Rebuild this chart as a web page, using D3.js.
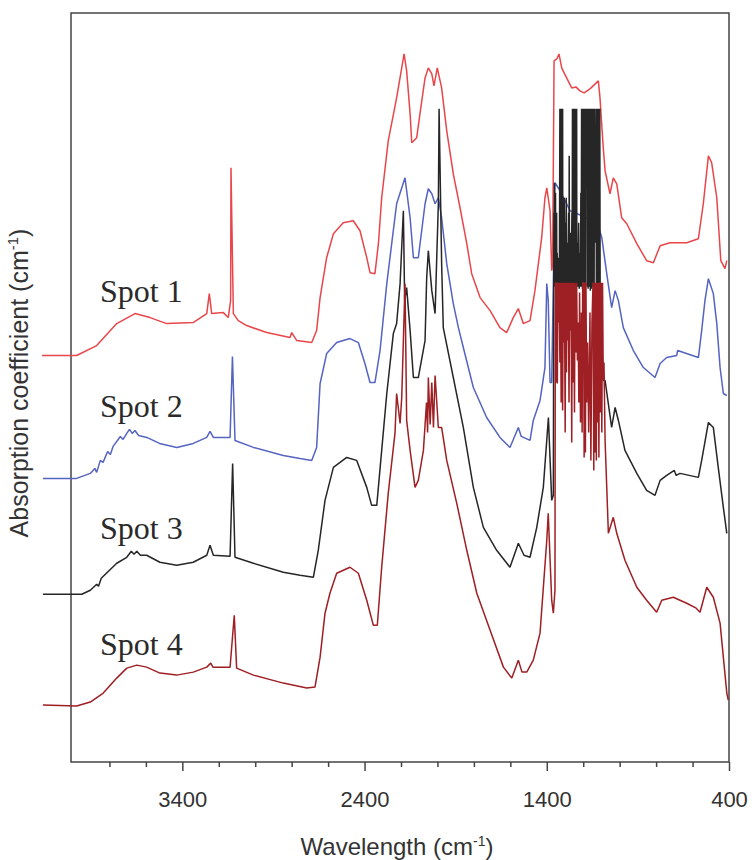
<!DOCTYPE html>
<html>
<head>
<meta charset="utf-8">
<script src="https://cdn.jsdelivr.net/npm/d3@7"></script>
<style>
  body { margin: 0; background: #fff; }
  .axis text { font-family: "Liberation Sans", Arial, sans-serif; fill: #333; }
  .axis path, .axis line { stroke: #444; }
</style>
</head>
<body>
<div id="chart"></div>
<script>
// wavenumber (cm-1), absorption coefficient (arbitrary, offset per spot)
const spot1 = [
  [4170, 40.7], [3980, 40.7], [3870, 41.7], [3760, 43.9], [3660, 44.9], [3577, 44.5], [3486, 43.9],
  [3341, 44.0], [3266, 44.9], [3252, 46.9], [3239, 44.9], [3175, 45.0], [3148, 44.5], [3135, 46.2],
  [3133, 59.5], [3120, 44.9], [3093, 44.2], [3047, 43.7], [2937, 43.0], [2809, 42.5], [2800, 43.0],
  [2772, 42.2], [2690, 42.0], [2663, 43.2], [2644, 46.5], [2608, 50.5], [2571, 52.9], [2517, 54.0],
  [2462, 54.2], [2425, 53.2], [2388, 50.5], [2370, 49.0], [2343, 48.9], [2324, 51.9], [2306, 56.5],
  [2270, 62.2], [2224, 66.5], [2196, 69.5], [2183, 70.9], [2169, 69.2], [2150, 64.9], [2141, 62.0],
  [2114, 62.5], [2096, 64.9], [2068, 68.5], [2050, 69.5], [2031, 68.9], [2019, 67.7], [2001, 69.5],
  [1977, 67.5], [1949, 63.2], [1913, 58.9], [1876, 55.5], [1839, 51.9], [1812, 48.9], [1766, 46.5],
  [1711, 45.2], [1657, 43.5], [1620, 43.0], [1584, 44.5], [1556, 45.4], [1529, 43.9], [1492, 44.2],
  [1465, 47.2], [1428, 52.5], [1410, 56.5], [1400, 57.5], [1382, 55.2], [1373, 49.2], [1368, 49.7],
  [1360, 70.2], [1345, 70.4], [1333, 70.9], [1318, 69.5], [1305, 69.0], [1291, 68.5], [1263, 67.5],
  [1240, 67.6], [1218, 67.2], [1195, 67.0], [1163, 67.4], [1140, 67.8], [1117, 68.2], [1108, 66.5],
  [1090, 61.5], [1080, 59.2], [1053, 56.9], [1035, 58.5], [1016, 57.9], [989, 54.5], [961, 53.9],
  [906, 51.9], [852, 50.2], [815, 50.0], [778, 51.7], [724, 52.0], [632, 52.0], [568, 52.4],
  [541, 55.9], [513, 60.7], [495, 60.0], [467, 56.5], [445, 50.2], [422, 49.4], [412, 50.2]
];

const spot2 = [
  [4165, 28.4], [3980, 28.4], [3905, 28.9], [3880, 29.4], [3870, 29.0], [3850, 30.2], [3835, 30.0],
  [3810, 31.1], [3795, 30.8], [3780, 31.6], [3740, 32.6], [3725, 32.3], [3705, 32.9], [3690, 33.3],
  [3675, 32.9], [3660, 33.2], [3640, 32.7], [3595, 32.5], [3525, 31.9], [3430, 31.5], [3340, 31.9],
  [3266, 32.5], [3248, 33.1], [3230, 32.5], [3138, 32.5], [3125, 40.6], [3111, 32.2], [3010, 31.5],
  [2846, 30.7], [2754, 30.4], [2690, 30.2], [2663, 31.5], [2644, 37.9], [2608, 40.9], [2553, 42.0],
  [2480, 42.4], [2434, 42.0], [2398, 39.9], [2370, 38.0], [2343, 38.0], [2315, 41.2], [2278, 47.9],
  [2224, 55.9], [2178, 58.5], [2150, 54.5], [2132, 50.5], [2105, 50.5], [2068, 55.9], [2050, 57.4],
  [2031, 56.9], [2013, 55.9], [1995, 56.5], [1977, 54.5], [1949, 49.9], [1913, 45.9], [1885, 43.5],
  [1858, 41.5], [1803, 37.5], [1730, 34.5], [1657, 32.5], [1602, 31.5], [1556, 33.5], [1540, 32.6],
  [1492, 32.2], [1474, 34.2], [1437, 36.2], [1410, 39.5], [1400, 47.9], [1392, 46.2], [1382, 38.0],
  [1373, 38.0], [1355, 58.0], [1327, 57.2], [1272, 55.2], [1181, 54.5], [1126, 54.2], [1098, 52.5],
  [1071, 48.9], [1044, 45.5], [1025, 47.2], [1007, 46.2], [980, 43.5], [925, 41.2], [870, 39.5],
  [806, 38.5], [778, 39.9], [742, 40.5], [687, 40.7], [682, 41.2], [568, 40.5], [550, 43.2],
  [532, 46.2], [513, 48.4], [486, 46.9], [467, 43.9], [449, 39.5], [431, 36.9], [412, 36.7]
];

const spot3 = [
  [4165, 16.8], [3952, 16.8], [3905, 17.2], [3870, 17.8], [3860, 17.6], [3845, 18.4], [3760, 19.9],
  [3705, 20.5], [3680, 21.1], [3665, 20.8], [3650, 21.1], [3630, 20.7], [3596, 20.7], [3523, 20.0],
  [3431, 19.7], [3340, 20.0], [3266, 20.7], [3248, 21.7], [3230, 20.7], [3138, 20.6], [3124, 29.9],
  [3111, 20.5], [3010, 19.9], [2846, 19.0], [2754, 18.7], [2681, 18.5], [2654, 21.2], [2617, 26.2],
  [2571, 29.5], [2498, 30.5], [2443, 30.2], [2388, 27.5], [2361, 25.7], [2333, 25.7], [2306, 31.2],
  [2278, 36.9], [2242, 42.9], [2224, 43.9], [2205, 47.9], [2187, 55.2], [2180, 46.2], [2169, 47.5],
  [2150, 43.2], [2132, 38.5], [2105, 38.5], [2068, 42.2], [2059, 48.5], [2050, 51.2], [2031, 47.2],
  [2013, 44.9], [1995, 55.9], [1991, 65.4], [1977, 49.9], [1968, 43.5], [1913, 38.5], [1858, 33.5],
  [1803, 27.5], [1748, 23.5], [1675, 21.2], [1602, 19.5], [1556, 21.9], [1525, 20.7], [1492, 20.5],
  [1455, 23.5], [1419, 27.5], [1391, 34.5], [1373, 26.2], [1364, 26.7],
  // saturated band
  [1361, 55], [1360, 47.6], [1358, 58], [1357, 47.8], [1355, 56], [1354, 47.6], [1352, 57], [1351, 47.8],
  [1349, 54], [1348, 47.6], [1346, 55], [1345, 47.8], [1343, 51], [1340, 47.6], [1336, 50.5], [1331, 47.6],
  [1328, 65.4], [1327, 47.6], [1325, 65.4], [1324, 47.6], [1322, 65.4], [1321, 47.8], [1319, 65.4],
  [1318, 47.6], [1316, 65.4], [1315, 47.8], [1313, 65.4], [1312, 47.6],
  [1309, 53], [1307, 47.6], [1304, 56.5], [1302, 47.8], [1299, 54], [1297, 47.6], [1293, 56.5],
  [1291, 47.8], [1287, 52], [1284, 47.6], [1280, 55], [1278, 47.8], [1277, 60.7], [1275, 47.6],
  [1270, 53], [1266, 47.6], [1262, 55], [1261, 47.8],
  [1259, 65.4], [1258, 47.6], [1256, 65.4], [1255, 47.8], [1253, 65.4], [1252, 47.6], [1250, 65.4],
  [1249, 47.8], [1247, 65.4], [1246, 47.6], [1244, 65.4], [1243, 47.8], [1241, 65.4], [1240, 47.6],
  [1238, 65.4], [1237, 47.8], [1236, 65.4], [1235, 47.6],
  [1231, 52], [1229, 47.6], [1225, 54], [1222, 47.4], [1218, 51], [1215, 47.6], [1213, 57], [1211, 47.6],
  [1209, 65.4], [1207, 47.8], [1206, 65.4], [1204, 47.4], [1203, 65.4], [1201, 48.0], [1200, 65.4],
  [1198, 47.6], [1197, 65.4], [1195, 47.8], [1194, 65.4], [1192, 47.4], [1191, 65.4], [1189, 48.0],
  [1188, 65.4], [1184, 60], [1181, 65.4], [1179, 47.6], [1178, 65.4], [1176, 47.8], [1175, 65.4],
  [1173, 47.4], [1172, 65.4], [1170, 48.0], [1169, 65.4], [1167, 47.6], [1166, 65.4], [1164, 47.8],
  [1163, 65.4], [1161, 47.2], [1160, 65.4], [1158, 47.8], [1157, 65.4], [1155, 47.4], [1154, 65.4],
  [1152, 48.0], [1151, 65.4], [1149, 47.6], [1148, 65.4], [1146, 47.8], [1145, 65.4], [1143, 47.2],
  [1142, 65.4], [1140, 47.8], [1139, 65.4], [1136, 55], [1132, 52], [1130, 65.4], [1128, 47.4],
  [1127, 65.4], [1125, 47.8], [1124, 65.4], [1122, 47.4], [1121, 65.4], [1119, 48.0], [1118, 65.4],
  [1116, 47.6], [1115, 65.4], [1113, 47.2], [1112, 65.4], [1110, 47.4], [1109, 65.4], [1107, 46],
  [1104, 44], [1100, 42], [1095, 40.5], [1088, 38.2],
  [1080, 38.2], [1044, 33.5], [1025, 35.5], [1007, 34.2], [971, 31.2], [906, 28.9], [852, 27.2],
  [806, 26.7], [778, 28.2], [742, 28.7], [700, 29.2], [690, 28.7], [669, 28.9], [568, 28.5],
  [550, 30.2], [513, 34.0], [486, 33.5], [459, 29.5], [431, 25.5], [412, 22.9]
];

const spot4 = [
  [4165, 5.7], [3980, 5.6], [3905, 6.0], [3834, 6.9], [3760, 8.4], [3705, 9.4], [3650, 9.7],
  [3596, 9.5], [3523, 8.9], [3431, 8.7], [3340, 9.0], [3266, 9.5], [3244, 9.9], [3232, 9.5],
  [3138, 9.5], [3115, 14.7], [3102, 9.4], [3010, 8.7], [2846, 7.9], [2717, 7.4], [2672, 7.5],
  [2644, 10.5], [2617, 14.9], [2590, 16.9], [2553, 18.9], [2480, 19.5], [2434, 18.9], [2388, 16.2],
  [2352, 13.7], [2330, 13.7], [2306, 19.5], [2270, 26.9], [2233, 32.9], [2224, 36.9], [2205, 33.9],
  [2196, 36.5], [2178, 47.9], [2169, 34.2], [2150, 31.2], [2123, 27.5], [2105, 28.2], [2077, 31.2],
  [2060, 36.0], [2054, 33.0], [2050, 38.5], [2040, 33.8], [2031, 38.0], [2022, 33.5], [2013, 38.7],
  [1995, 33.5], [1977, 33.5], [1949, 30.2], [1894, 25.9], [1839, 21.2], [1784, 16.9], [1711, 13.2],
  [1638, 9.5], [1592, 8.4], [1556, 10.2], [1536, 9.0], [1510, 9.0], [1474, 10.2], [1437, 12.9],
  [1400, 22.2], [1392, 24.9], [1373, 16.2], [1364, 14.9], [1355, 17.2],
  // saturated band
  [1353, 48], [1350, 48], [1348, 38], [1345, 48], [1342, 37.9], [1339, 48], [1335, 44], [1332, 48],
  [1328, 40], [1325, 48], [1321, 36], [1318, 48], [1313, 35.2], [1310, 48], [1306, 42], [1303, 48],
  [1299, 33.0], [1296, 48], [1292, 39], [1289, 48], [1285, 42.2], [1282, 48], [1278, 36], [1274, 48],
  [1270, 43.2], [1267, 48], [1263, 32.0], [1260, 48], [1256, 38], [1252, 48], [1248, 35], [1245, 48],
  [1240, 41], [1236, 48], [1232, 40.2], [1228, 44], [1224, 36], [1220, 47], [1215, 34], [1210, 45],
  [1206, 33], [1203, 48], [1198, 48], [1195, 30.5], [1192, 48], [1188, 31], [1185, 48], [1181, 36],
  [1176, 42], [1170, 33], [1163, 45], [1158, 30.2], [1152, 44], [1146, 48], [1142, 29.2], [1139, 48],
  [1135, 31], [1132, 48], [1128, 30.2], [1125, 48], [1121, 34], [1118, 48], [1114, 30.5], [1110, 48],
  [1106, 35], [1102, 48], [1098, 33], [1094, 48], [1090, 38.2], [1086, 40],
  [1080, 32.2], [1062, 22.9], [1035, 24.5], [1016, 22.9], [971, 20.2], [906, 17.5], [852, 16.2],
  [797, 15.0], [769, 16.2], [706, 16.5], [632, 15.9], [580, 15.4], [559, 15.0], [522, 17.5],
  [486, 16.5], [449, 13.9], [412, 6.9], [404, 6.2]
];

const spotNames = ['Spot 1', 'Spot 2', 'Spot 3', 'Spot 4'];
const spotColors = ['#e8464b', '#5563c1', '#262626', '#9e1f24'];
const spotLabelY = [46.1, 34.5, 22.3, 10.7];   // label baselines in y units
const majorTicks = [3400, 2400, 1400, 400];
const minorTicks = d3.range(3800, 400, -200).filter(d => !majorTicks.includes(d));

const width = 752, height = 860;
const margin = {top: 13, right: 23, bottom: 98, left: 73};

const svg = d3.select('#chart').append('svg')
    .attr('width', width)
    .attr('height', height);

const xScale = d3.scaleLinear()
    .domain([4000, 400])
    .range([margin.left, width - margin.right]);

const yScale = d3.scaleLinear()
    .domain([0, 75])
    .range([height - margin.bottom, margin.top]);

// frame
svg.append('rect')
    .attr('x', margin.left - 2)
    .attr('y', margin.top)
    .attr('width', width - margin.right - margin.left + 2)
    .attr('height', height - margin.bottom - margin.top)
    .attr('fill', 'none')
    .attr('stroke', '#444')
    .attr('stroke-width', 1.5);

const xAxisMinor = d3.axisBottom(xScale)
    .tickValues(minorTicks)
    .tickSize(5)
    .tickSizeOuter(0)
    .tickFormat('');

const xAxis = d3.axisBottom(xScale)
    .tickValues(majorTicks)
    .tickSize(9)
    .tickSizeOuter(0)
    .tickPadding(20)
    .tickFormat(d => d);

svg.append('g')
    .attr('class', 'axis')
    .attr('transform', `translate(0,${height - margin.bottom})`)
    .call(xAxisMinor)
    .call(g => g.select('.domain').remove())
    .selectAll('line').attr('stroke-width', 1.5);

svg.append('g')
    .attr('class', 'axis')
    .attr('transform', `translate(0,${height - margin.bottom})`)
    .call(xAxis)
    .call(g => g.select('.domain').remove())
    .call(g => g.selectAll('line').attr('stroke-width', 1.5))
    .selectAll('text')
    .style('font-size', '22px');

const line = d3.line()
    .x(d => xScale(d[0]))
    .y(d => yScale(d[1]));

[spot1, spot2, spot3, spot4].forEach((s, i) => {
    svg.append('path')
        .datum(s)
        .attr('fill', 'none')
        .attr('stroke', spotColors[i])
        .attr('stroke-width', 1.5)
        .attr('stroke-linejoin', 'bevel')
        .attr('d', line);
});

svg.selectAll('.spot-label')
    .data(spotNames)
    .join('text')
    .attr('class', 'spot-label')
    .attr('x', 100)
    .attr('y', (d, i) => yScale(spotLabelY[i]))
    .style('font-family', '"Liberation Serif", "Times New Roman", serif')
    .style('font-size', '32px')
    .style('fill', '#2a2a2a')
    .text(d => d);

const xTitle = svg.append('text')
    .attr('x', 397)
    .attr('y', 855)
    .attr('text-anchor', 'middle')
    .style('font-family', '"Liberation Sans", Arial, sans-serif')
    .style('font-size', '24px')
    .style('fill', '#333')
    .text('Wavelength (cm');
xTitle.append('tspan').attr('dy', -9).style('font-size', '14px').text('-1');
xTitle.append('tspan').attr('dy', 9).text(')');

const yTitle = svg.append('text')
    .attr('transform', 'translate(28,383) rotate(-90)')
    .attr('text-anchor', 'middle')
    .style('font-family', '"Liberation Sans", Arial, sans-serif')
    .style('font-size', '25px')
    .style('fill', '#333')
    .text('Absorption coefficient (cm');
yTitle.append('tspan').attr('dy', -10).style('font-size', '15px').text('-1');
yTitle.append('tspan').attr('dy', 10).text(')');
</script>
</body>
</html>
